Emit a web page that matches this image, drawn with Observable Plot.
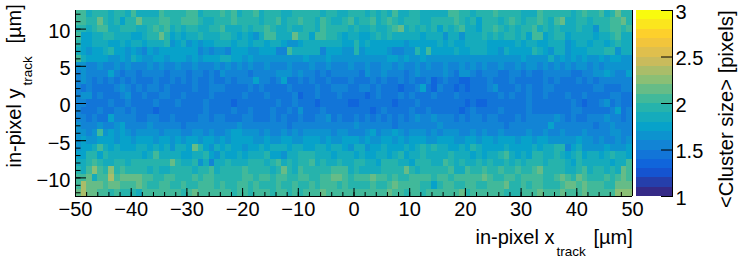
<!DOCTYPE html>
<html><head><meta charset="utf-8">
<script src="https://cdn.jsdelivr.net/npm/d3@7"></script>
<script src="https://cdn.jsdelivr.net/npm/@observablehq/plot@0.6"></script>
<style>html,body{margin:0;background:#fff}#c{position:relative;width:739px;height:259px}#c svg{position:absolute;left:0;top:0;background:transparent}</style>
</head><body><div id="c"></div>
<script>
// Mean cluster size in tenths of a pixel, 100 x-bins per row, one row per 1 um of y.
const y12=[20,20,18,19,19,19,18,19,19,18,20,18,18,18,18,20,19,19,19,19,20,20,18,19,19,19,20,19,20,18,19,19,20,18,19,19,19,18,18,19,19,19,19,19,18,19,19,18,18,19,19,19,18,19,18,19,18,20,18,18,19,19,18,18,18,18,18,20,20,19,19,18,19,19,19,20,19,19,19,19,18,18,18,20,19,19,19,19,19,18,19,20,19,19,20,18,19,21,19,19];
const y11=[20,20,19,19,21,19,18,19,17,19,19,21,19,19,19,20,20,19,19,20,20,20,19,18,18,19,19,19,20,19,19,19,19,18,19,19,20,18,19,19,20,19,19,18,20,19,18,18,19,20,18,19,19,20,18,19,20,19,18,19,19,19,18,18,19,19,19,19,20,19,18,19,17,19,19,19,18,19,20,19,18,19,19,20,19,18,20,21,18,18,19,19,18,19,19,19,20,20,21,19];
const y10=[19,19,18,19,20,20,18,18,19,19,19,18,18,19,20,19,20,18,19,18,19,19,18,18,19,19,20,18,18,18,19,18,19,19,20,19,18,18,19,18,18,19,19,18,20,19,19,19,19,18,19,18,18,19,18,18,19,20,21,18,19,18,19,18,19,17,19,18,19,20,18,18,17,19,19,20,19,18,19,18,19,19,20,18,19,18,19,18,18,18,19,18,18,16,19,19,20,20,19,20];
const y9=[20,17,17,18,18,19,19,18,18,18,17,17,18,19,19,21,19,17,18,17,18,18,19,18,18,18,19,19,18,17,18,17,16,18,20,20,18,18,18,21,19,19,17,20,20,19,19,18,17,18,18,17,17,18,19,18,19,18,18,18,18,18,17,18,18,18,16,18,18,16,18,18,18,19,18,19,18,19,19,18,19,17,20,20,17,18,19,19,17,18,18,18,18,17,18,18,19,20,18,18];
const y8=[19,17,17,18,18,18,17,17,18,17,18,18,17,18,18,18,19,16,17,18,16,17,16,17,17,18,18,18,17,18,18,17,18,18,17,18,18,17,16,16,17,18,18,18,18,18,18,18,17,17,19,17,18,17,17,17,17,17,17,16,17,17,17,17,17,18,17,18,17,17,18,18,18,18,17,17,17,17,17,18,17,18,18,17,17,18,18,18,16,17,18,18,17,18,18,17,18,19,18,18];
const y7=[18,17,16,17,17,18,19,17,17,16,17,16,15,17,16,17,17,17,17,17,17,17,15,16,15,16,16,15,17,17,17,16,16,17,17,17,15,15,20,18,18,18,18,18,15,17,17,17,16,16,19,16,17,17,17,17,16,15,15,16,16,19,17,20,17,17,17,17,18,17,17,18,18,18,17,17,16,18,17,17,17,17,19,18,17,16,18,18,16,17,17,17,18,18,18,19,19,16,18,18];
const y6=[20,18,17,17,17,17,16,16,17,16,18,17,16,16,17,17,16,17,17,17,16,17,16,17,17,17,18,18,17,17,16,17,16,16,16,16,16,16,16,16,16,17,16,16,16,17,16,16,16,16,16,16,16,16,16,16,17,17,16,17,16,16,17,16,16,16,16,16,16,16,16,16,16,16,16,16,16,16,16,16,17,16,16,16,16,18,16,17,16,17,16,17,16,16,17,16,17,17,16,16];
const y5=[16,16,15,15,16,15,15,16,15,16,15,15,15,16,15,16,15,15,16,15,15,16,15,15,15,16,15,16,15,16,15,16,15,15,16,15,15,15,16,15,15,15,16,15,15,16,15,15,15,16,15,15,16,15,15,16,16,15,16,15,15,16,15,16,15,15,16,15,15,16,15,16,15,16,15,15,16,15,15,16,15,16,16,15,16,15,16,15,16,15,16,16,15,16,15,16,16,16,16,16];
const y4=[15,16,15,15,15,15,17,15,14,15,15,14,15,15,15,15,14,15,15,15,14,15,15,14,15,14,16,15,15,15,15,14,15,15,15,15,16,16,16,15,16,15,15,14,15,14,15,15,15,15,15,14,16,15,15,16,15,15,15,14,15,16,15,15,15,15,16,15,14,16,16,15,14,15,15,15,14,14,15,15,14,15,14,14,15,15,15,15,15,14,14,15,15,16,16,17,16,15,15,17];
const y3=[15,16,15,14,15,14,15,14,15,14,15,14,14,14,15,14,14,15,14,15,14,15,14,14,15,14,14,15,14,15,15,15,17,15,15,14,15,17,14,14,15,14,15,14,14,15,14,14,14,15,14,14,14,15,14,15,14,14,15,14,15,14,14,15,13,14,15,14,14,13,13,14,14,14,15,14,14,14,15,14,14,14,14,14,15,14,15,14,14,14,15,14,15,14,15,15,15,15,15,15];
const y2=[15,14,15,14,14,14,14,15,16,15,14,15,14,15,15,14,15,14,14,14,14,15,14,14,15,15,15,14,14,14,14,15,14,15,14,14,14,14,15,14,14,14,14,15,14,14,15,15,15,14,14,15,15,14,15,14,14,14,13,14,14,15,17,14,13,15,14,14,13,14,13,14,14,14,15,16,14,14,14,15,14,15,14,14,15,15,14,14,14,14,14,14,14,15,15,14,14,14,15,15];
const y1=[15,16,16,14,15,14,14,14,15,16,14,14,15,14,14,15,15,14,14,15,14,14,14,14,15,14,14,14,14,14,15,14,14,14,15,14,14,14,14,15,13,14,14,15,14,14,14,15,14,14,14,14,13,14,15,14,14,14,15,14,15,14,14,14,15,14,14,14,15,14,14,14,14,14,14,14,15,14,15,14,14,15,14,14,15,14,14,14,15,14,14,15,14,14,14,14,15,15,14,14];
const y0=[15,15,14,14,14,14,15,14,14,15,14,14,14,14,15,14,14,14,15,14,14,14,14,15,14,14,14,14,13,14,14,14,14,14,14,14,15,14,14,15,14,14,14,13,14,14,14,14,14,13,13,14,14,14,14,14,14,13,14,14,14,15,14,14,14,14,14,14,14,14,13,14,13,13,14,14,14,14,14,14,14,15,14,14,14,14,14,14,14,15,14,13,14,14,15,16,14,15,14,14];
const yM1=[15,14,14,14,15,14,14,15,15,14,15,14,14,14,13,14,14,14,14,14,14,14,14,15,14,14,14,14,15,14,14,15,14,14,14,15,14,14,15,14,16,14,14,14,15,14,14,14,14,14,14,14,14,13,14,15,14,14,14,14,15,14,14,15,14,14,14,14,14,13,14,15,14,14,14,14,15,14,14,14,14,15,14,14,14,14,14,14,14,15,15,14,14,14,14,14,15,17,14,15];
const yM2=[15,15,14,15,14,14,17,15,15,15,15,14,14,15,15,14,14,15,14,14,14,14,15,15,14,15,15,14,14,14,15,15,14,14,14,15,14,15,14,14,15,14,14,15,15,16,14,15,14,14,15,14,15,14,15,14,15,14,15,14,15,16,15,15,16,15,15,15,14,15,14,15,15,14,15,15,14,14,14,15,14,15,15,15,15,15,16,15,14,15,14,14,15,15,15,16,15,15,14,15];
const yM3=[16,15,15,15,16,15,15,16,17,15,15,15,15,16,15,15,15,15,15,14,15,15,15,15,15,15,15,15,15,16,15,15,15,15,15,15,15,15,14,15,15,15,15,15,15,15,15,15,15,15,16,15,15,15,15,15,15,14,15,15,15,15,15,15,15,16,15,15,15,15,15,15,15,15,15,15,15,14,15,15,15,15,15,15,15,17,15,15,15,15,15,15,15,14,15,15,16,15,15,15];
const yM4=[16,16,15,16,20,16,17,16,17,16,15,16,16,16,16,15,16,16,16,15,15,16,16,15,16,15,15,16,17,17,16,16,16,15,16,15,15,16,15,16,15,16,16,16,16,16,15,16,16,15,15,15,16,17,15,16,16,17,16,15,16,16,16,15,16,15,16,16,16,15,15,16,15,16,15,15,16,15,15,15,15,16,15,15,16,15,15,16,15,15,15,16,15,15,15,15,16,16,15,15];
const yM5=[16,17,16,16,17,17,17,16,17,17,16,17,17,17,16,17,17,16,17,16,17,17,16,17,17,16,17,16,17,17,17,17,16,16,17,16,16,17,17,16,16,17,17,17,16,17,16,16,17,17,17,16,17,16,16,17,17,16,17,16,17,17,17,16,16,17,17,17,16,16,17,17,16,17,17,16,17,17,17,16,17,17,16,17,17,16,16,16,16,16,17,16,16,15,16,15,15,16,15,16];
const yM6=[16,17,17,18,20,18,17,18,17,17,17,18,18,17,18,17,18,16,18,18,17,21,19,17,16,18,17,18,17,17,16,17,17,18,17,18,18,18,17,18,18,17,17,18,18,17,18,18,17,16,18,18,16,17,17,18,17,17,17,18,17,18,19,18,19,18,18,17,17,18,17,19,18,17,17,17,17,18,17,17,17,17,18,17,18,18,19,19,15,17,18,16,16,16,16,17,16,16,16,17];
const yM7=[17,17,19,19,17,19,18,18,18,18,18,18,17,18,20,18,18,18,18,17,17,18,18,19,17,16,18,17,17,18,17,18,18,18,19,17,17,16,18,18,19,19,19,18,18,18,17,18,18,18,17,18,17,17,18,18,17,18,19,17,18,18,19,18,18,18,18,19,18,18,18,17,18,17,18,18,19,20,18,17,18,17,19,19,18,18,19,18,17,18,19,17,18,18,17,18,19,18,18,17];
const yM8=[18,18,19,20,19,18,18,19,19,18,19,19,19,19,19,19,19,21,19,18,18,19,16,18,15,18,18,19,18,18,18,19,19,19,18,19,20,18,19,18,19,19,20,18,19,18,18,19,18,18,19,19,18,18,17,19,19,19,18,18,17,19,19,19,18,18,20,19,18,19,18,18,19,18,19,18,18,19,18,19,18,19,19,19,18,19,19,19,18,17,19,18,18,18,18,18,17,18,18,20];
const yM9=[19,18,20,22,20,19,22,19,20,19,19,19,19,18,19,18,18,19,19,19,19,18,19,19,20,18,19,19,19,19,20,19,19,19,19,18,19,21,19,18,20,19,19,19,19,19,20,20,20,18,19,18,18,18,18,19,19,19,19,21,19,18,19,19,19,19,19,20,18,18,20,19,19,20,19,19,20,19,19,20,19,19,20,21,19,19,19,19,18,18,19,20,18,19,19,18,19,18,21,20];
const yM10=[20,20,21,18,20,20,23,20,21,21,21,21,20,20,19,19,20,20,19,19,19,20,19,20,20,19,19,19,19,19,20,20,19,20,20,19,20,20,19,19,20,20,19,19,20,20,21,21,20,19,20,20,20,21,20,20,19,20,19,19,20,20,20,20,19,20,20,19,20,20,20,20,20,21,20,19,19,20,20,19,20,20,20,20,19,19,20,21,20,19,21,20,19,19,19,20,19,20,21,20];
const yM11=[20,23,21,21,21,20,21,21,20,20,20,21,20,19,19,20,20,19,19,20,19,19,20,20,20,19,20,19,19,20,20,19,20,19,19,19,20,19,19,20,19,19,20,19,20,20,20,19,20,19,19,19,19,20,19,19,20,21,20,20,20,20,19,19,17,19,20,20,19,19,20,20,19,19,20,20,20,21,19,19,20,19,20,20,19,19,19,20,21,21,20,21,20,20,20,19,19,21,21,21];
const yM12=[21,23,21,21,20,20,19,20,19,19,19,18,20,20,20,20,20,20,20,19,20,21,20,20,20,20,20,20,19,20,20,19,20,20,20,19,20,20,19,20,19,20,20,20,21,20,20,20,20,20,20,20,20,20,20,20,21,20,20,19,20,20,19,20,20,20,20,20,20,21,19,20,20,20,20,20,20,19,19,19,20,20,20,21,20,20,20,21,20,20,20,21,20,20,20,20,20,22,22,22];

const rows=[y12,y11,y10,y9,y8,y7,y6,y5,y4,y3,y2,y1,y0,yM1,yM2,yM3,yM4,yM5,yM6,yM7,yM8,yM9,yM10,yM11,yM12];
const yCentres=[12,11,10,9,8,7,6,5,4,3,2,1,0,-1,-2,-3,-4,-5,-6,-7,-8,-9,-10,-11,-12];
const xMajor=[-50,-40,-30,-20,-10,0,10,20,30,40,50];
const yMajor=[-10,-5,0,5,10];
const zMajor=[1,1.5,2,2.5,3];
const zEdges=[1,1.1,1.2,1.3,1.4,1.5,1.6,1.7,1.8,1.9,2,2.1,2.2,2.3,2.4,2.5,2.6,2.7,2.8,2.9,3];
const bird=["#352a87","#253fab","#1554d0","#1065db","#1275d8","#1284d5","#0d93cf","#07a2ca","#15abbc","#26b3ac","#41b99a","#66bc87","#8bbf75","#aabd69","#c9bb5c","#dfbf4d","#f2c53c","#fdd02c","#fbe61d","#f9fb0e"];

const cells=rows.flatMap((r,j)=>r.map((t,i)=>({x1:-50+i,x2:-49+i,y1:yCentres[j]-0.5,y2:yCentres[j]+0.5,v:t/10+0.05})));
const xMinor=d3.range(-50,51,2), yMinor=d3.range(-12,13,1);
const colorScale={type:"threshold",domain:zEdges.slice(1,-1),range:bird};
const style={fontFamily:"'Liberation Sans',Arial,sans-serif",fontSize:"20px",background:"transparent",overflow:"visible"};
const blank=()=>"";

const main=Plot.plot({
  width:739,height:259,marginLeft:75,marginRight:107,marginTop:10,marginBottom:63,style,
  x:{domain:[-50,50]},y:{domain:[-12.5,12.5]},color:colorScale,
  marks:[
    Plot.rect(cells,{x1:"x1",x2:"x2",y1:"y1",y2:"y2",fill:"v",shapeRendering:"crispEdges"}),
    Plot.ruleX([-50,50],{stroke:"#000"}),
    Plot.ruleY([-12.5],{stroke:"#000"}),
    Plot.axisX({ticks:xMinor,tickSize:-4,tickFormat:blank,label:null,tickPadding:0}),
    Plot.axisX({ticks:xMajor,tickSize:-8,tickFormat:blank,label:null,tickPadding:0}),
    Plot.axisX({ticks:xMajor,tickSize:0,tickPadding:5,tickFormat:d3.format("d"),label:null}),
    Plot.axisY({ticks:yMinor,tickSize:-5.5,tickFormat:blank,label:null,tickPadding:0}),
    Plot.axisY({ticks:yMajor,tickSize:-11,tickFormat:blank,label:null,tickPadding:0}),
    Plot.axisY({ticks:yMajor,tickSize:0,tickPadding:5,dy:2.5,tickFormat:d3.format("d"),label:null}),
    Plot.text(["in-pixel x"],{frameAnchor:"bottom-right",textAnchor:"start",lineAnchor:"bottom",dx:-157,dy:47}),
    Plot.text(["track"],{frameAnchor:"bottom-right",textAnchor:"start",lineAnchor:"bottom",dx:-76,dy:59,fontSize:13.5}),
    Plot.text(["[µm]"],{frameAnchor:"bottom-right",textAnchor:"start",lineAnchor:"bottom",dx:-39,dy:47}),
    Plot.text(["in-pixel y"],{frameAnchor:"top-left",textAnchor:"start",lineAnchor:"bottom",rotate:-90,dx:-55,dy:157}),
    Plot.text(["track"],{frameAnchor:"top-left",textAnchor:"start",lineAnchor:"bottom",rotate:-90,dx:-44,dy:75,fontSize:13.5}),
    Plot.text(["[µm]"],{frameAnchor:"top-left",textAnchor:"start",lineAnchor:"bottom",rotate:-90,dx:-55,dy:33}),
    Plot.text(["<Cluster size> [pixels]"],{frameAnchor:"top-right",textAnchor:"end",lineAnchor:"bottom",rotate:-90,dx:100,dy:0,fontSize:20.2})
  ]
});
const bands=zEdges.slice(0,-1).map((lo,i)=>({lo,hi:zEdges[i+1],v:lo+0.05}));
const bar=Plot.plot({
  width:739,height:259,marginLeft:636,marginRight:67,marginTop:10,marginBottom:63,style,
  y:{domain:[1,3]},color:colorScale,
  marks:[
    Plot.rect(bands,{y1:"lo",y2:"hi",fill:"v",shapeRendering:"crispEdges"}),
    Plot.frame({anchor:"right",stroke:"#000"}),
    Plot.axisY({anchor:"right",ticks:zMajor,tickSize:-12,tickFormat:blank,label:null,tickPadding:0}),
    Plot.axisY({anchor:"right",ticks:zMajor,tickSize:0,tickPadding:3,dy:2,tickFormat:String,label:null})
  ]
});
document.getElementById("c").append(bar,main);
</script></body></html>
